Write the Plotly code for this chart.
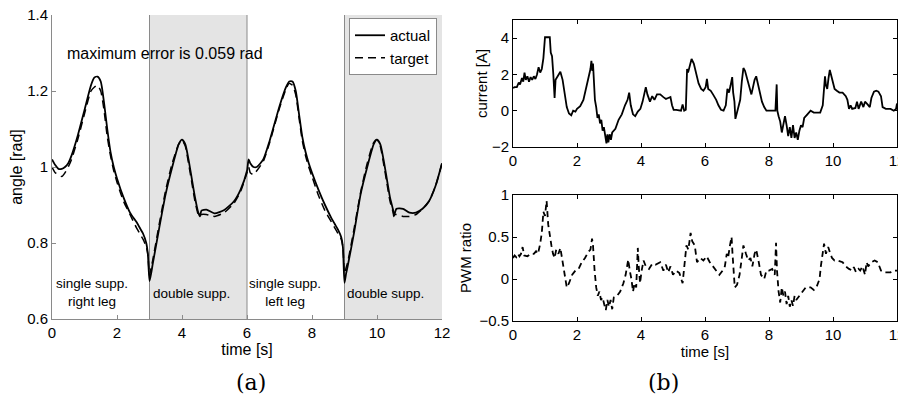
import plotly.graph_objects as go

# ---------------- data ----------------
# angle plot: [time, actual, target]
angle_samples = [
    [0.0, 1.020, 1.000], [0.1, 1.005, 0.985], [0.2, 0.995, 0.980], [0.3, 0.995, 0.975],
    [0.4, 1.000, 0.985], [0.5, 1.010, 1.000], [0.6, 1.030, 1.020], [0.8, 1.085, 1.075],
    [1.0, 1.150, 1.140], [1.2, 1.215, 1.200], [1.3, 1.235, 1.210], [1.4, 1.238, 1.215],
    [1.5, 1.225, 1.200], [1.6, 1.170, 1.150], [1.7, 1.100, 1.080], [1.8, 1.040, 1.030],
    [1.9, 1.000, 0.990], [2.0, 0.970, 0.960], [2.2, 0.920, 0.910], [2.4, 0.880, 0.875],
    [2.6, 0.855, 0.840], [2.7, 0.840, 0.825], [2.8, 0.825, 0.810], [2.9, 0.800, 0.790],
    [2.95, 0.770, 0.770], [3.0, 0.700, 0.715], [3.05, 0.720, 0.735], [3.1, 0.745, 0.755],
    [3.3, 0.840, 0.850], [3.5, 0.930, 0.940], [3.7, 1.000, 1.010], [3.9, 1.060, 1.060],
    [4.0, 1.072, 1.070], [4.1, 1.060, 1.055], [4.2, 1.020, 1.010], [4.3, 0.970, 0.960],
    [4.4, 0.920, 0.910], [4.5, 0.880, 0.875], [4.55, 0.870, 0.870], [4.6, 0.885, 0.875],
    [4.75, 0.888, 0.875], [5.0, 0.878, 0.870], [5.3, 0.887, 0.880], [5.6, 0.910, 0.905],
    [5.8, 0.940, 0.935], [6.0, 0.990, 0.985], [6.05, 1.020, 1.000], [6.1, 1.010, 0.985],
    [6.2, 1.000, 0.980], [6.3, 1.000, 0.990], [6.5, 1.020, 1.015], [6.7, 1.070, 1.065],
    [7.0, 1.160, 1.155], [7.2, 1.210, 1.205], [7.3, 1.225, 1.220], [7.4, 1.225, 1.215],
    [7.5, 1.200, 1.190], [7.6, 1.140, 1.130], [7.7, 1.080, 1.070], [7.8, 1.040, 1.030],
    [7.9, 1.010, 1.000], [8.0, 0.985, 0.975], [8.2, 0.940, 0.925], [8.4, 0.900, 0.885],
    [8.6, 0.865, 0.855], [8.7, 0.850, 0.840], [8.8, 0.835, 0.825], [8.9, 0.815, 0.810],
    [8.95, 0.790, 0.790], [9.0, 0.695, 0.720], [9.05, 0.720, 0.735], [9.1, 0.740, 0.750],
    [9.3, 0.830, 0.840], [9.5, 0.930, 0.935], [9.7, 1.000, 1.010], [9.9, 1.060, 1.065],
    [10.0, 1.072, 1.072], [10.1, 1.060, 1.055], [10.2, 1.020, 1.010], [10.3, 0.970, 0.960],
    [10.4, 0.920, 0.910], [10.5, 0.885, 0.880], [10.52, 0.870, 0.875], [10.6, 0.890, 0.875],
    [10.8, 0.890, 0.870], [11.0, 0.880, 0.870], [11.2, 0.880, 0.875], [11.4, 0.890, 0.890],
    [11.6, 0.910, 0.910], [11.8, 0.950, 0.950], [12.0, 1.010, 1.010],
]

# motor current [A]: [time, value]
current_samples = [
    [0, 1.25], [0.05, 1.3], [0.12, 1.3], [0.18, 1.55], [0.22, 1.45], [0.28, 1.8], [0.32, 1.6],
    [0.36, 2.1], [0.4, 1.7], [0.45, 1.9], [0.5, 1.6], [0.55, 1.85], [0.6, 1.7], [0.65, 1.9],
    [0.7, 1.75], [0.75, 2.0], [0.8, 2.4], [0.85, 2.1], [0.9, 2.3], [0.95, 2.9], [1.0, 4.05],
    [1.15, 4.05], [1.18, 3.2], [1.22, 3.0], [1.26, 2.0], [1.3, 0.7], [1.33, 1.7], [1.4, 1.9],
    [1.48, 2.15], [1.55, 1.7], [1.6, 1.0], [1.68, 0.2], [1.75, -0.15], [1.82, -0.25], [1.88, 0.0],
    [1.95, -0.05], [2.0, 0.1], [2.1, 0.25], [2.2, 0.6], [2.28, 1.2], [2.33, 1.7], [2.38, 1.9],
    [2.42, 2.3], [2.45, 2.75], [2.48, 2.2], [2.5, 2.6], [2.53, 1.5], [2.56, 0.6], [2.6, 0.2],
    [2.64, -0.4], [2.68, -0.2], [2.72, -0.7], [2.76, -0.5], [2.8, -1.1], [2.84, -0.9],
    [2.88, -1.5], [2.92, -1.8], [2.95, -1.3], [2.98, -1.75], [3.02, -1.3], [3.06, -1.6],
    [3.1, -1.2], [3.2, -1.0], [3.3, -0.5], [3.4, -0.2], [3.5, 0.3], [3.58, 0.6], [3.63, 1.0],
    [3.68, 0.3], [3.75, -0.2], [3.82, -0.3], [3.9, -0.05], [3.98, 0.1], [4.05, 0.5], [4.1, 1.0],
    [4.15, 1.3], [4.2, 0.9], [4.28, 0.5], [4.35, 0.8], [4.42, 0.6], [4.5, 0.9], [4.6, 0.9],
    [4.7, 0.75], [4.78, 0.65], [4.85, 0.7], [4.92, 0.75], [4.97, 0.3], [5.02, 0.05], [5.1, 0.05],
    [5.2, 0.0], [5.25, 0.0], [5.3, 0.35], [5.35, 0.0], [5.4, 0.05], [5.44, 2.3], [5.47, 2.1],
    [5.52, 2.4], [5.58, 2.85], [5.65, 2.6], [5.72, 2.0], [5.8, 1.5], [5.88, 1.2], [5.95, 1.1],
    [6.02, 1.3], [6.06, 1.75], [6.1, 1.2], [6.18, 1.1], [6.25, 0.9], [6.35, 0.6], [6.42, 0.3],
    [6.5, 0.05], [6.58, 0.0], [6.65, 0.3], [6.7, 1.2], [6.75, 1.0], [6.8, 1.4], [6.85, 1.85],
    [6.88, 1.0], [6.92, 0.5], [6.95, -0.45], [7.0, -0.1], [7.05, 0.2], [7.1, 0.6], [7.15, 1.6],
    [7.2, 2.35], [7.25, 2.2], [7.3, 1.9], [7.35, 1.5], [7.4, 1.2], [7.45, 0.9], [7.5, 1.3],
    [7.55, 1.7], [7.6, 1.9], [7.65, 1.5], [7.7, 1.0], [7.78, 0.5], [7.85, 0.2], [7.92, 0.0],
    [8.05, 0.0], [8.2, 0.0], [8.24, 1.45], [8.26, 0.0], [8.3, -0.3], [8.35, -0.6], [8.4, -1.2],
    [8.45, -0.8], [8.5, -0.3], [8.55, -0.8], [8.6, -1.4], [8.65, -0.9], [8.7, -1.5], [8.75, -0.8],
    [8.8, -1.5], [8.85, -1.2], [8.9, -1.6], [8.95, -1.1], [9.0, -0.8], [9.05, -0.9], [9.1, -0.4],
    [9.2, -0.2], [9.3, 0.0], [9.4, -0.1], [9.5, -0.1], [9.6, -0.1], [9.68, 0.3], [9.72, 1.0],
    [9.75, 1.9], [9.78, 1.4], [9.82, 1.2], [9.86, 1.8], [9.9, 2.25], [9.95, 1.9], [10.0, 1.6],
    [10.05, 1.2], [10.12, 1.1], [10.2, 1.0], [10.3, 1.0], [10.4, 0.8], [10.45, 0.6], [10.5, 0.1],
    [10.55, 0.3], [10.6, 0.1], [10.7, 0.15], [10.75, 0.5], [10.8, 0.1], [10.88, 0.5], [10.95, 0.2],
    [11.0, 0.5], [11.08, 0.35], [11.15, 0.2], [11.2, 0.7], [11.28, 1.05], [11.35, 1.1],
    [11.42, 1.05], [11.5, 0.8], [11.55, 0.2], [11.65, 0.1], [11.8, 0.1], [11.9, 0.0],
    [11.97, 0.1], [12.0, 0.4],
]

# PWM ratio: [time, value]
pwm_samples = [
    [0, 0.25], [0.05, 0.28], [0.1, 0.26], [0.15, 0.3], [0.2, 0.27], [0.25, 0.3], [0.3, 0.38],
    [0.35, 0.28], [0.45, 0.27], [0.55, 0.3], [0.65, 0.3], [0.72, 0.33], [0.78, 0.3], [0.85, 0.42],
    [0.9, 0.55], [0.95, 0.8], [1.0, 0.75], [1.05, 0.93], [1.1, 0.65], [1.15, 0.5], [1.2, 0.4],
    [1.25, 0.3], [1.3, 0.25], [1.35, 0.35], [1.42, 0.3], [1.48, 0.37], [1.55, 0.2], [1.62, 0.05],
    [1.68, -0.1], [1.75, -0.05], [1.85, 0.05], [1.95, 0.1], [2.05, 0.12], [2.15, 0.2],
    [2.25, 0.25], [2.35, 0.32], [2.42, 0.35], [2.47, 0.48], [2.5, 0.4], [2.55, 0.1], [2.6, -0.1],
    [2.65, -0.2], [2.7, -0.15], [2.75, -0.25], [2.8, -0.22], [2.85, -0.3], [2.9, -0.37],
    [2.95, -0.25], [3.0, -0.33], [3.05, -0.25], [3.1, -0.36], [3.15, -0.22], [3.25, -0.2],
    [3.35, -0.15], [3.45, -0.05], [3.52, 0.05], [3.6, 0.23], [3.65, 0.1], [3.7, 0.0],
    [3.75, -0.15], [3.8, -0.05], [3.85, -0.1], [3.9, 0.37], [3.93, 0.15], [3.97, -0.05],
    [4.02, 0.1], [4.08, 0.22], [4.15, 0.15], [4.25, 0.12], [4.35, 0.18], [4.45, 0.17],
    [4.6, 0.2], [4.7, 0.1], [4.78, 0.17], [4.85, 0.08], [4.92, 0.15], [5.0, 0.05], [5.1, 0.1],
    [5.2, 0.07], [5.3, -0.05], [5.35, 0.15], [5.42, 0.4], [5.48, 0.35], [5.55, 0.55], [5.6, 0.45],
    [5.68, 0.4], [5.75, 0.2], [5.85, 0.25], [5.95, 0.22], [6.05, 0.27], [6.15, 0.2], [6.25, 0.15],
    [6.35, 0.1], [6.45, 0.05], [6.55, 0.1], [6.62, 0.15], [6.68, 0.3], [6.72, 0.25], [6.78, 0.4],
    [6.83, 0.5], [6.86, 0.3], [6.9, 0.1], [6.93, -0.1], [7.0, -0.07], [7.08, 0.05], [7.15, 0.25],
    [7.2, 0.4], [7.28, 0.3], [7.35, 0.22], [7.42, 0.25], [7.48, 0.15], [7.55, 0.3], [7.6, 0.35],
    [7.68, 0.2], [7.75, 0.05], [7.85, 0.0], [7.92, 0.1], [8.0, 0.1], [8.1, 0.12], [8.18, 0.05],
    [8.22, 0.43], [8.25, 0.1], [8.3, -0.15], [8.35, -0.28], [8.4, -0.1], [8.45, -0.2],
    [8.5, -0.15], [8.55, -0.3], [8.6, -0.2], [8.65, -0.33], [8.7, -0.25], [8.75, -0.32],
    [8.8, -0.2], [8.85, -0.25], [8.95, -0.2], [9.05, -0.15], [9.15, -0.1], [9.3, -0.1],
    [9.4, -0.13], [9.5, -0.08], [9.58, 0.0], [9.62, 0.15], [9.68, 0.3], [9.72, 0.42], [9.78, 0.3],
    [9.85, 0.38], [9.9, 0.32], [9.97, 0.25], [10.05, 0.22], [10.15, 0.22], [10.3, 0.2],
    [10.4, 0.15], [10.5, 0.12], [10.6, 0.1], [10.65, 0.14], [10.72, 0.08], [10.8, 0.12],
    [10.85, 0.1], [10.92, 0.15], [11.0, 0.05], [11.05, 0.2], [11.1, 0.15], [11.2, 0.2],
    [11.3, 0.22], [11.4, 0.2], [11.5, 0.1], [11.6, 0.08], [11.8, 0.08], [11.9, 0.1], [12.0, 0.1],
]

# gait phases: shaded double-support intervals and phase boundaries
shaded_phases = [[3, 6], [9, 12]]
phase_boundaries = [3, 6, 9]
phase_labels = [
    [1.23, 0.671, "single supp.<br>right leg"],
    [4.28, 0.666, "double supp."],
    [7.18, 0.671, "single supp.<br>left leg"],
    [10.27, 0.666, "double supp."],
]
error_note = "maximum error is 0.059 rad"

x_ticks = [0, 2, 4, 6, 8, 10, 12]
angle_ticks = [0.6, 0.8, 1.0, 1.2, 1.4]
angle_tick_text = ["0.6", "0.8", "1", "1.2", "1.4"]
current_ticks = [-2, 0, 2, 4]
current_tick_text = ["\u22122", "0", "2", "4"]
pwm_ticks = [-0.5, 0, 0.5, 1]
pwm_tick_text = ["\u22120.5", "0", "0.5", "1"]

# ---------------- figure ----------------
t_ang = [r[0] for r in angle_samples]
actual = [r[1] for r in angle_samples]
target = [r[2] for r in angle_samples]
t_cur = [r[0] for r in current_samples]
cur = [r[1] for r in current_samples]
t_pwm = [r[0] for r in pwm_samples]
pwm = [r[1] for r in pwm_samples]

# the page body has an 8px margin; size the figure so it fills the 906x400 window
OFF = 8
W, H = 906 - OFF, 400 - OFF


def px(x):
    return (x - OFF) / W


def py(y):
    return 1 - (y - OFF) / H


SANS = "Liberation Sans, Arial, Helvetica, sans-serif"
SERIF = "DejaVu Serif, serif"
fig = go.Figure()

fig.add_trace(go.Scatter(x=t_ang, y=actual, mode="lines", name="actual",
                         line=dict(color="black", width=1.8, shape="spline", smoothing=0.6),
                         xaxis="x", yaxis="y"))
fig.add_trace(go.Scatter(x=t_ang, y=target, mode="lines", name="target",
                         line=dict(color="black", width=1.5, dash="8px,5px", shape="spline", smoothing=0.6),
                         xaxis="x", yaxis="y"))
fig.add_trace(go.Scatter(x=t_cur, y=cur, mode="lines", showlegend=False,
                         line=dict(color="black", width=1.8), xaxis="x2", yaxis="y2"))
fig.add_trace(go.Scatter(x=t_pwm, y=pwm, mode="lines", showlegend=False,
                         line=dict(color="black", width=1.8, dash="6px,4px"), xaxis="x3", yaxis="y3"))

shapes = []
for x0, x1 in shaded_phases:
    shapes.append(dict(type="rect", xref="x", yref="y domain", x0=x0, x1=x1, y0=0, y1=1,
                       fillcolor="#e4e4e4", line=dict(width=0), layer="below"))
for xb in phase_boundaries:
    shapes.append(dict(type="line", xref="x", yref="y domain", x0=xb, x1=xb, y0=0, y1=1,
                       line=dict(color="#8a8a8a", width=1), layer="below"))

annotations = [dict(x=3.48, y=1.30, xref="x", yref="y", text=error_note, showarrow=False,
                    xanchor="center", yanchor="middle",
                    font=dict(family=SANS, size=16, color="black"))]
for lx, ly, txt in phase_labels:
    annotations.append(dict(x=lx, y=ly, xref="x", yref="y", text=txt, showarrow=False,
                            xanchor="center", yanchor="middle",
                            font=dict(family=SANS, size=13.5, color="black")))
annotations.append(dict(x=px(251), y=py(382), xref="paper", yref="paper", text="(a)",
                        showarrow=False, xanchor="center", yanchor="middle",
                        font=dict(family=SERIF, size=22, color="black")))
annotations.append(dict(x=px(663), y=py(382), xref="paper", yref="paper", text="(b)",
                        showarrow=False, xanchor="center", yanchor="middle",
                        font=dict(family=SERIF, size=22, color="black")))

left_axis = dict(showline=True, linecolor="#8a8a8a", linewidth=1, ticks="inside", tickcolor="#8a8a8a",
                 ticklen=4, showgrid=False, zeroline=False, mirror=False, automargin=False,
                 ticklabeloverflow="allow",
                 tickfont=dict(family=SANS, size=15, color="black"))
right_axis = dict(showline=True, linecolor="black", linewidth=1, ticks="inside", tickcolor="black",
                  ticklen=4, showgrid=False, zeroline=False, mirror="ticks", automargin=False,
                  ticklabeloverflow="allow",
                  tickfont=dict(family=SANS, size=15, color="black"))

fig.update_layout(
    width=W, height=H, margin=dict(l=0, r=0, t=0, b=0, autoexpand=False),
    paper_bgcolor="white", plot_bgcolor="white",
    font=dict(family=SANS, color="black"),
    shapes=shapes, annotations=annotations,
    showlegend=True,
    legend=dict(x=px(437), y=py(18), xanchor="right", yanchor="top",
                bgcolor="white", bordercolor="#8a8a8a", borderwidth=1,
                font=dict(family=SANS, size=15, color="black"), tracegroupgap=0,
                itemwidth=30),
    xaxis=dict(**left_axis, domain=[px(52), px(442)], range=[0, 12], tickvals=x_ticks,
               title=dict(text="time [s]", font=dict(family=SANS, size=16), standoff=2),
               anchor="y"),
    yaxis=dict(**left_axis, domain=[py(319), py(15)], range=[0.6, 1.4],
               tickvals=angle_ticks, ticktext=angle_tick_text,
               title=dict(text="angle [rad]", font=dict(family=SANS, size=16), standoff=2),
               anchor="x"),
    xaxis2=dict(**right_axis, domain=[px(513), px(897)], range=[0, 12], tickvals=x_ticks,
                anchor="y2"),
    yaxis2=dict(**right_axis, domain=[py(147), py(20)], range=[-2, 5],
                tickvals=current_ticks, ticktext=current_tick_text,
                title=dict(text="current [A]", font=dict(family=SANS, size=15), standoff=0),
                anchor="x2"),
    xaxis3=dict(**right_axis, domain=[px(513), px(897)], range=[0, 12], tickvals=x_ticks,
                title=dict(text="time [s]", font=dict(family=SANS, size=15), standoff=0),
                anchor="y3"),
    yaxis3=dict(**right_axis, domain=[py(321), py(195)], range=[-0.5, 1],
                tickvals=pwm_ticks, ticktext=pwm_tick_text,
                title=dict(text="PWM ratio", font=dict(family=SANS, size=15), standoff=4),
                anchor="x3"),
)

fig.write_html("out.html")
